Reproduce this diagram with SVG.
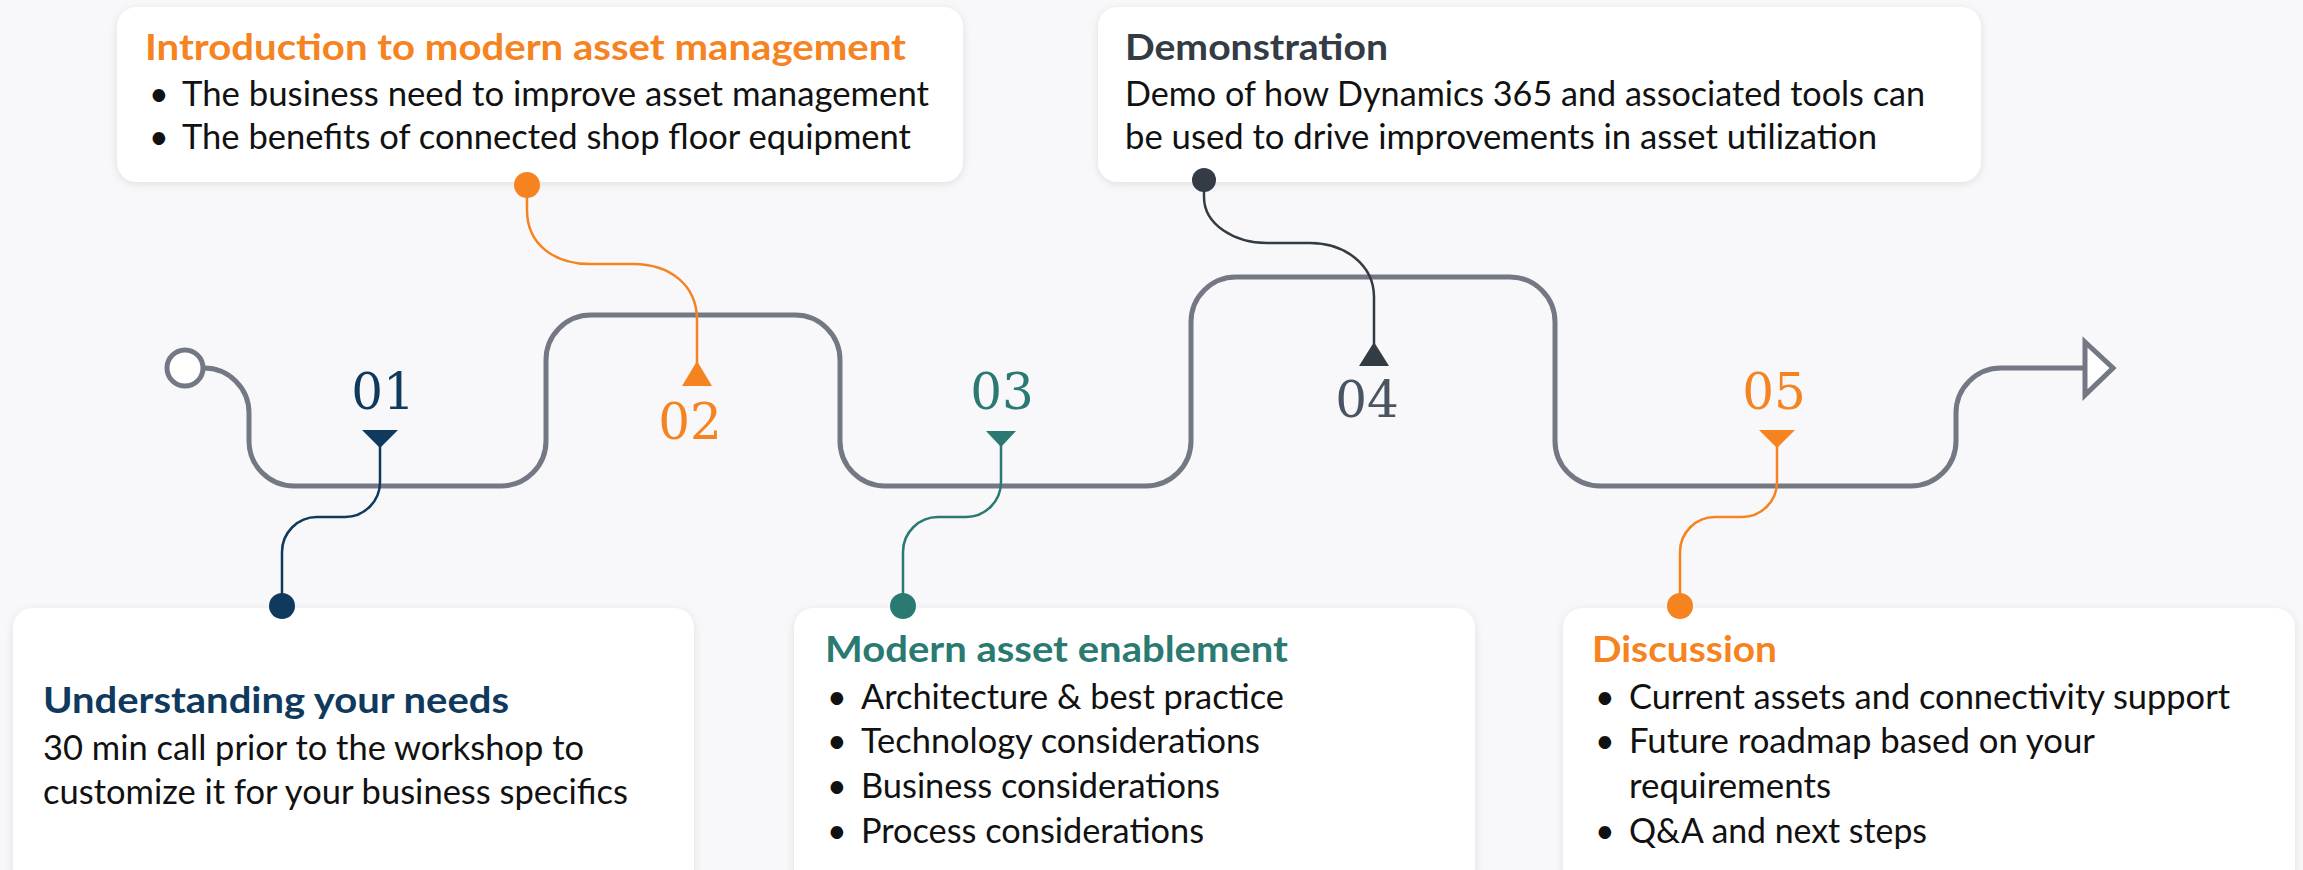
<svg xmlns="http://www.w3.org/2000/svg" width="2303" height="870" viewBox="0 0 2303 870">
<defs>
<style>
.bg{fill:#F8F8FA}
.box{fill:#FFFFFF;filter:url(#sh)}
.ttl{font-family:Lato,"Open Sans","Liberation Sans",sans-serif;font-weight:700;font-size:37px}
.txt{font-family:Lato,"Open Sans","Liberation Sans",sans-serif;font-size:34px;fill:#111111}
.num{font-family:"DejaVu Serif","Liberation Serif",serif;font-size:50px;text-anchor:middle}
.track{fill:none;stroke:#747885;stroke-width:5;stroke-linejoin:round}
.conn{fill:none;stroke-width:2.5}
.navy{fill:#0F3A5E}
.orange{fill:#F5831F}
.teal{fill:#2A7A72}
.slate{fill:#333B45}
.num4{fill:#4A5563}
</style>
<filter id="sh" x="-5%" y="-10%" width="110%" height="125%">
<feDropShadow dx="0" dy="2" stdDeviation="4" flood-color="#000000" flood-opacity="0.10"/>
</filter>
</defs>
<rect class="bg" x="0" y="0" width="2303" height="870"/>

<g id="track">
<path class="track" d="M204 368 A45 45 0 0 1 249 413 L249 441 A45 45 0 0 0 294 486 L501 486 A45 45 0 0 0 546 441 L546 360 A45 45 0 0 1 591 315 L795 315 A45 45 0 0 1 840 360 L840 441 A45 45 0 0 0 885 486 L1146 486 A45 45 0 0 0 1191 441 L1191 322 A45 45 0 0 1 1236 277 L1510 277 A45 45 0 0 1 1555 322 L1555 441 A45 45 0 0 0 1600 486 L1911 486 A45 45 0 0 0 1956 441 L1956 413 A45 45 0 0 1 2001 368 L2085 368"/>
<circle cx="185" cy="368" r="18" fill="#FFFFFF" stroke="#747885" stroke-width="5"/>
<path d="M2085 342 L2113 368 L2085 395 Z" fill="#FFFFFF" stroke="#747885" stroke-width="5" stroke-linejoin="miter"/>
</g>

<g id="numbers">
<text class="num navy" x="383" y="409">01</text>
<text class="num orange" x="690" y="439">02</text>
<text class="num teal" x="1002" y="409">03</text>
<text class="num num4" x="1367" y="417">04</text>
<text class="num orange" x="1774" y="409">05</text>
</g>

<g id="node-intro">
<rect class="box" x="117" y="7" width="846" height="175" rx="20"/>
<text class="ttl orange" x="145" y="60" textLength="761" lengthAdjust="spacingAndGlyphs">Introduction to modern asset management</text>
<text class="txt"><tspan x="149" y="106">•</tspan><tspan x="182" y="106" textLength="747" lengthAdjust="spacingAndGlyphs">The business need to improve asset management</tspan></text>
<text class="txt"><tspan x="149" y="149">•</tspan><tspan x="182" y="149" textLength="729" lengthAdjust="spacingAndGlyphs">The benefits of connected shop floor equipment</tspan></text>
</g>

<g id="node-demo">
<rect class="box" x="1098" y="7" width="883" height="175" rx="20"/>
<text class="ttl slate" x="1125" y="60" textLength="263" lengthAdjust="spacingAndGlyphs">Demonstration</text>
<text class="txt" x="1125" y="106" textLength="800" lengthAdjust="spacingAndGlyphs">Demo of how Dynamics 365 and associated tools can</text>
<text class="txt" x="1125" y="149" textLength="752" lengthAdjust="spacingAndGlyphs">be used to drive improvements in asset utilization</text>
</g>

<g id="node-needs">
<rect class="box" x="13" y="608" width="681" height="290" rx="20"/>
<text class="ttl navy" x="43" y="713" textLength="466" lengthAdjust="spacingAndGlyphs">Understanding your needs</text>
<text class="txt" x="43" y="760" textLength="541" lengthAdjust="spacingAndGlyphs">30 min call prior to the workshop to</text>
<text class="txt" x="43" y="804" textLength="585" lengthAdjust="spacingAndGlyphs">customize it for your business specifics</text>
</g>

<g id="node-enablement">
<rect class="box" x="794" y="608" width="681" height="290" rx="20"/>
<text class="ttl teal" x="825" y="662" textLength="463" lengthAdjust="spacingAndGlyphs">Modern asset enablement</text>
<text class="txt"><tspan x="827" y="709">•</tspan><tspan x="861" y="709" textLength="423" lengthAdjust="spacingAndGlyphs">Architecture &amp; best practice</tspan></text>
<text class="txt"><tspan x="827" y="753">•</tspan><tspan x="861" y="753" textLength="399" lengthAdjust="spacingAndGlyphs">Technology considerations</tspan></text>
<text class="txt"><tspan x="827" y="798">•</tspan><tspan x="861" y="798" textLength="359" lengthAdjust="spacingAndGlyphs">Business considerations</tspan></text>
<text class="txt"><tspan x="827" y="843">•</tspan><tspan x="861" y="843" textLength="343" lengthAdjust="spacingAndGlyphs">Process considerations</tspan></text>
</g>

<g id="node-discussion">
<rect class="box" x="1563" y="608" width="732" height="290" rx="20"/>
<text class="ttl orange" x="1592" y="662" textLength="185" lengthAdjust="spacingAndGlyphs">Discussion</text>
<text class="txt"><tspan x="1595" y="709">•</tspan><tspan x="1629" y="709" textLength="601" lengthAdjust="spacingAndGlyphs">Current assets and connectivity support</tspan></text>
<text class="txt"><tspan x="1595" y="753">•</tspan><tspan x="1629" y="753" textLength="466" lengthAdjust="spacingAndGlyphs">Future roadmap based on your</tspan></text>
<text class="txt"><tspan x="1629" y="798" textLength="202" lengthAdjust="spacingAndGlyphs">requirements</tspan></text>
<text class="txt"><tspan x="1595" y="843">•</tspan><tspan x="1629" y="843" textLength="298" lengthAdjust="spacingAndGlyphs">Q&amp;A and next steps</tspan></text>
</g>

<g id="connectors">
<path class="conn" stroke="#0F3A5E" d="M380 446 V482 A35 35 0 0 1 345 517 H317 A35 35 0 0 0 282 552 V606"/>
<path class="navy" d="M362 430 L398 430 L380 448 Z"/>
<circle class="navy" cx="282" cy="606" r="13"/>

<path class="conn" stroke="#F5831F" d="M527 185 V210 C527 245 555 264 590 264 H633 C670 264 697 285 697 320 V364"/>
<circle class="orange" cx="527" cy="185" r="13"/>
<path class="orange" d="M697 361 L712 386 L682 386 Z"/>

<path class="conn" stroke="#2A7A72" d="M1001 445 V482 A35 35 0 0 1 966 517 H938 A35 35 0 0 0 903 552 V606"/>
<path class="teal" d="M986 431 L1016 431 L1001 447 Z"/>
<circle class="teal" cx="903" cy="606" r="13"/>

<path class="conn" stroke="#333B45" d="M1204 180 V197 C1204 225 1235 243 1267 243 H1310 C1345 243 1374 265 1374 297 V344"/>
<circle class="slate" cx="1204" cy="180" r="12"/>
<path class="slate" d="M1374 342 L1389 366 L1359 366 Z"/>

<path class="conn" stroke="#F5831F" d="M1777 446 V482 A35 35 0 0 1 1742 517 H1715 A35 35 0 0 0 1680 552 V606"/>
<path class="orange" d="M1759 430 L1795 430 L1777 448 Z"/>
<circle class="orange" cx="1680" cy="606" r="13"/>
</g>
</svg>
